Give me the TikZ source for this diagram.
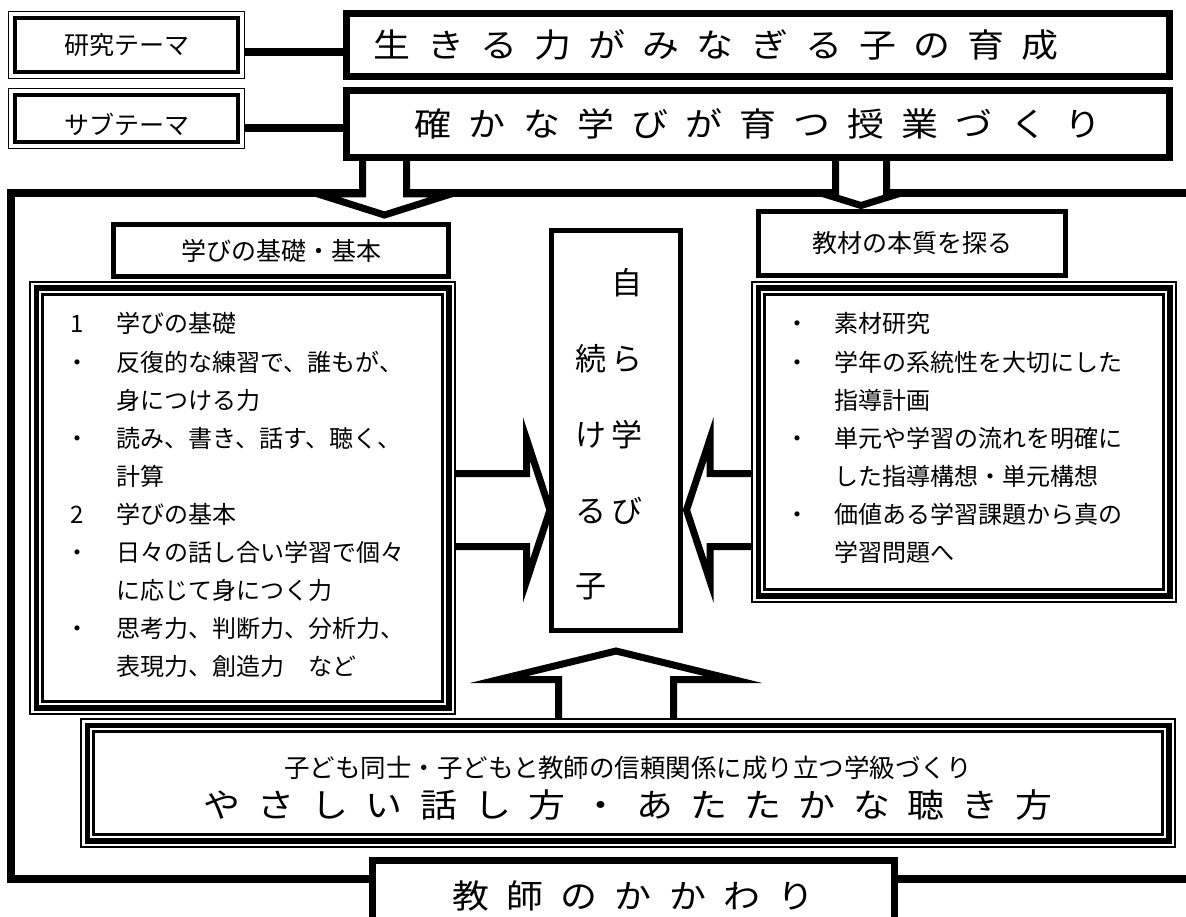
\documentclass[tikz,border=0pt]{standalone}
\usepackage{fontspec}
\setmainfont{Noto Sans CJK JP}
\newfontfamily\bigjp[LetterSpace=52, FakeStretch=1.12]{Noto Sans CJK JP}
\usetikzlibrary{calc}

\tikzset{
  big/.style={font=\bigjp\fontsize{33pt}{38pt}\selectfont},
  small/.style={font=\fontsize{25pt}{30pt}\selectfont},
  item/.style={font=\fontsize{24pt}{28pt}\selectfont, inner sep=0pt, text height=21pt, text depth=5pt},
  titlebox/.style={draw, line width=7pt, fill=white, inner sep=0pt, big},
  labelbox/.style={draw, line width=3.5pt, fill=white, inner sep=0pt, minimum width=223pt, small},
  headbox/.style={draw, line width=5pt, fill=white, inner sep=0pt, small},
  tribox/.style={draw, line width=14.7pt, fill=white, inner sep=0pt,
    postaction={draw=white, line width=10.1pt},
    postaction={draw=black, line width=5.7pt}},
  fatarrow/.style={draw, line width=7pt, fill=white, line join=miter},
  thickline/.style={line width=8pt}
}

\begin{document}
\begin{tikzpicture}[x=1pt, y=-1pt]
  \useasboundingbox (0,0) rectangle (1186,917);
  \fill[white] (0,0) rectangle (1186,917);

  % outer frame, open to the right
  \draw[thickline] (1200,193) -- (11,193) -- (11,879) -- (1200,879);

  \coordinate (a1) at (384.5,194);
  \coordinate (a2) at (861,194);
  \coordinate (a3) at (526.5,510);
  \coordinate (a4) at (710,510);
  \coordinate (a5) at (616,679.5);

  \draw[fatarrow] (a1) ++(-22,-37) -- ++(0,37) -- ++(-44.5,0) -- ++(66.5,21) -- ++(66.5,-21) -- ++(-44.5,0) -- ++(0,-37);
  \draw[fatarrow] (a2) ++(-25.5,-37) -- ++(0,37) -- ++(-11.5,0) -- ++(37,11.5) -- ++(37,-11.5) -- ++(-11.5,0) -- ++(0,-37);
  \draw[fatarrow] (a3) ++(-70.5,-36.5) -- ++(70.5,0) -- ++(0,-34.5) -- ++(23.5,71) -- ++(-23.5,71) -- ++(0,-34.5) -- ++(-70.5,0);
  \draw[fatarrow] (a4) ++(41,-36.5) -- ++(-41,0) -- ++(0,-34.5) -- ++(-23.5,71) -- ++(23.5,71) -- ++(0,-34.5) -- ++(41,0);
  \draw[fatarrow] (a5) ++(-57.5,38.5) -- ++(0,-38.5) -- ++(-59.5,0) -- ++(117,-28.5) -- ++(117,28.5) -- ++(-59.5,0) -- ++(0,38.5);

  % themes
  \node[labelbox, minimum height=54pt] (lab1) at (126.5,45) {研究テーマ};
  \draw[line width=1.2pt] ($(lab1.north west)+(-4.4pt,4.4pt)$) rectangle ($(lab1.south east)+(4.4pt,-4.4pt)$);
  \node[labelbox, minimum height=47pt] (lab2) at (126.5,118.5) {};
  \draw[line width=1.2pt] ($(lab2.north west)+(-4.4pt,4.4pt)$) rectangle ($(lab2.south east)+(4.4pt,-4.4pt)$);
  \node[small] (lab2t) at (126.5,124) {サブテーマ};

  \node[titlebox, minimum width=823pt, minimum height=63pt, text width=770pt, inner xsep=26.5pt, align=left] (theme1) at (758,45) {生きる力がみなぎる子の育成};
  \node[titlebox, minimum width=823pt, minimum height=67pt] (theme2) at (758,124) {確かな学びが育つ授業づくり};

  \draw[thickline] ([xshift=4.4pt,yshift=-7pt]lab1.east) -- ([yshift=-7pt]lab1.east -| theme1.west);
  \draw[thickline] ([xshift=4.4pt,yshift=-9.5pt]lab2.east) -- ([yshift=-9.5pt]lab2.east -| theme2.west);

  % heads
  \node[headbox, minimum width=335pt, minimum height=52pt] (kiso) at (281,250.5) {学びの基礎・基本};
  \node[headbox, minimum width=307pt, minimum height=64pt] (kyozai) at (912,243.5) {教材の本質を探る};

  % lists
  \node[tribox, minimum width=412.3pt, minimum height=419.3pt] (lbox) at (242.5,498) {};
  \node[tribox, minimum width=411.3pt, minimum height=307.3pt] (rbox) at (964,442) {};

  \foreach \mk/\txt [count=\i from 0] in {1/学びの基礎, ・/反復的な練習で、誰もが、, {}/身につける力, ・/読み、書き、話す、聴く、, {}/計算, 2/学びの基本, ・/日々の話し合い学習で個々, {}/に応じて身につく力, ・/思考力、判断力、分析力、, {}/表現力、創造力　など}
  {
    \node[item] (lm\i) at (77.5,325+38.1*\i) {\mk};
    \node[item, anchor=west] (lt\i) at (116.7,325+38.1*\i) {\txt};
  }
  \foreach \mk/\txt [count=\i from 0] in {・/素材研究, ・/学年の系統性を大切にした, {}/指導計画, ・/単元や学習の流れを明確に, {}/した指導構想・単元構想, ・/価値ある学習課題から真の, {}/学習問題へ}
  {
    \node[item] (rm\i) at (797.5,325+38*\i) {\mk};
    \node[item, anchor=west] (rt\i) at (834,325+38*\i) {\txt};
  }

  % centre
  \node[headbox, minimum width=129pt, minimum height=400pt] (cbox) at (616,430.5) {};
  \foreach \lc/\rc [count=\i] in {{}/自, 続/ら, け/学, る/び, 子/{}}
  {
    \node[font=\fontsize{31pt}{37pt}\selectfont, inner sep=0pt] (cl\i) at (591,207+76*\i) {\lc};
    \node[font=\fontsize{31pt}{37pt}\selectfont, inner sep=0pt] (cr\i) at (627,207+76*\i) {\rc};
  }

  % class making
  \node[tribox, minimum width=1081.3pt, minimum height=115.3pt] (bbox) at (628,783) {};
  \node[font=\fontsize{25.5pt}{30pt}\selectfont] (bt1) at (628,768) {子ども同士・子どもと教師の信頼関係に成り立つ学級づくり};
  \node[big] (bt2) at (628,805) {やさしい話し方・あたたかな聴き方};

  \node[titlebox, minimum width=522pt, minimum height=70pt] (kakawari) at (633.5,895.5) {教師のかかわり};
\end{tikzpicture}
\end{document}
